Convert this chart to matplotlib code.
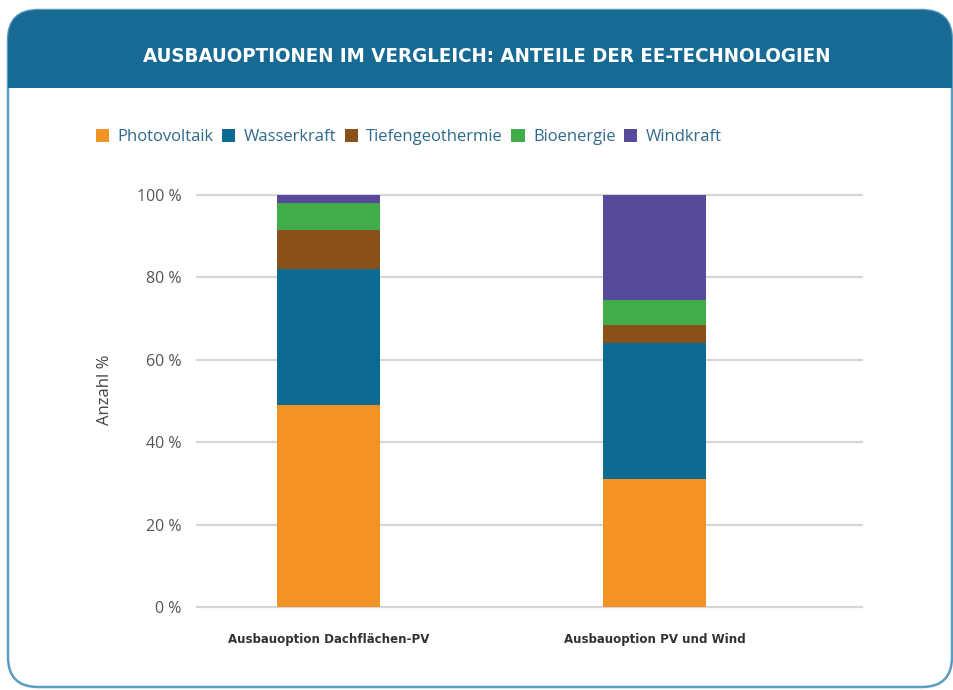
import matplotlib
matplotlib.use("Agg")
from matplotlib import pyplot as plt
from matplotlib import font_manager
from matplotlib.patches import FancyBboxPatch, Rectangle

categories = ["Ausbauoption Dachflächen-PV", "Ausbauoption PV und Wind"]
technologies = ["Photovoltaik", "Wasserkraft", "Tiefengeothermie", "Bioenergie", "Windkraft"]
photovoltaik = [49, 31]
wasserkraft = [33, 33]
tiefengeothermie = [9.5, 4.5]
bioenergie = [6.5, 6]
windkraft = [2, 25.5]
yticks = [0, 20, 40, 60, 80, 100]

colors = ["#f39325", "#0d6b93", "#8a5019", "#41ac4a", "#574a9b"]
header_color = "#166a93"
border_color = "#5b9dc2"

# pick a narrow bold font if one is around
names = {f.name for f in font_manager.fontManager.ttflist}
narrow = "Liberation Sans Narrow" if "Liberation Sans Narrow" in names else "DejaVu Sans"

fig = plt.figure(figsize=(9.54, 6.9), dpi=100)
renderer = fig.canvas.get_renderer()


def fit_width(txt, width_px):
    # shrink/grow font so the text spans about width_px
    w = txt.get_window_extent(renderer=renderer).width
    txt.set_fontsize(txt.get_fontsize() * width_px / w)


# outer frame with rounded corners (inches)
frame = FancyBboxPatch((0.08 + 0.3, 0.03 + 0.3), 9.44 - 0.6, 6.77 - 0.6,
                       boxstyle="round,pad=0.3", transform=fig.dpi_scale_trans,
                       facecolor="white", edgecolor=border_color, linewidth=1.8,
                       zorder=0)
fig.patches.append(frame)
header = Rectangle((0, 6.02), 9.54, 0.88, transform=fig.dpi_scale_trans,
                   facecolor=header_color, edgecolor="none", zorder=1)
header.set_clip_path(frame)
fig.patches.append(header)
title = fig.text(487 / 954, 1 - 57 / 690, "AUSBAUOPTIONEN IM VERGLEICH: ANTEILE DER EE-TECHNOLOGIEN",
                 color="white", fontsize=18, fontweight="bold", family=narrow,
                 fontstretch="condensed", ha="center", va="center", zorder=3)
fit_width(title, 689)

ax = fig.add_axes([197 / 954, 1 - 607 / 690, (862 - 197) / 954, 412 / 690])
ax.set_zorder(2)
x = [0, 1]
series = [photovoltaik, wasserkraft, tiefengeothermie, bioenergie, windkraft]
bottom = [0, 0]
handles = []
for name, vals, col in zip(technologies, series, colors):
    b = ax.bar(x, vals, width=0.316, bottom=bottom, color=col, label=name, zorder=3)
    handles.append(b)
    bottom = [bo + v for bo, v in zip(bottom, vals)]

ax.set_xlim(-0.403, 1.636)
ax.set_ylim(0, 100)
ax.set_yticks(yticks)
ax.set_yticklabels([f"{t} %" for t in yticks], fontsize=11.5, color="#555555", family="Open Sans")
ax.set_xticks(x)
xl = ax.set_xticklabels(categories, fontsize=10.5, fontweight="bold", color="#333333",
                        family=narrow, fontstretch="condensed")
fit_width(xl[0], 202)
xl[1].set_fontsize(xl[0].get_fontsize())
ax.tick_params(axis="y", length=0, pad=11)
ax.tick_params(axis="x", length=0, pad=19)
ax.grid(axis="y", color="#d6d6d6", linewidth=1.6, zorder=0)
for g in ax.yaxis.get_gridlines():
    g.set_clip_on(False)
for s in ax.spines.values():
    s.set_visible(False)
ax.set_facecolor("none")

fig.text(105 / 954, 1 - 390 / 690, "Anzahl %", rotation=90, fontsize=12,
         color="#444444", family="Open Sans", ha="center", va="center", zorder=3)

leg = fig.legend(handles=handles, loc="center left", bbox_to_anchor=(96 / 954, 1 - 137 / 690),
                 ncol=5, frameon=False, handlelength=0.8, handleheight=0.8,
                 handletextpad=0.5, columnspacing=0.5, borderpad=0, borderaxespad=0,
                 prop={"family": "Open Sans", "size": 12})
leg.set_zorder(3)
for t in leg.get_texts():
    t.set_color("#2f6a8c")

fig.savefig("out.png", dpi=100)
